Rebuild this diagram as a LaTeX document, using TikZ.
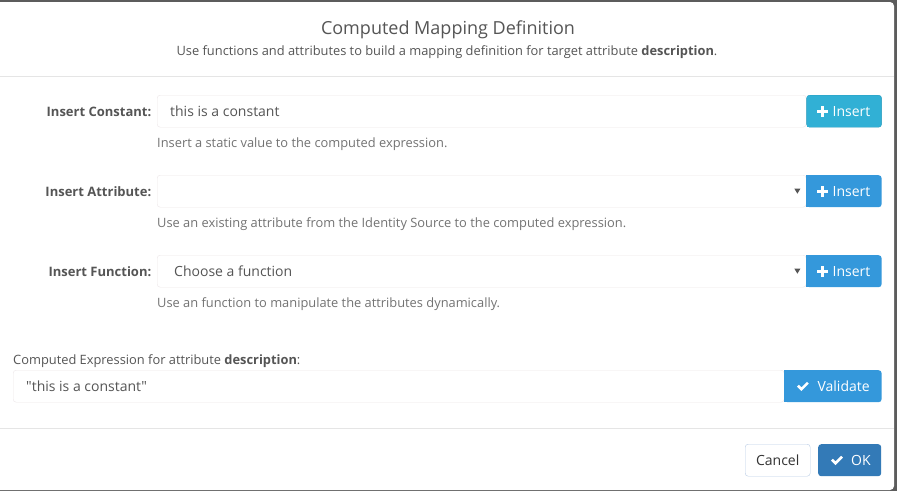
\documentclass[tikz,border=0pt]{standalone}
\usepackage{fontspec}
\setmainfont{Open Sans}[Ligatures=TeXOff]
\usetikzlibrary{positioning}

\definecolor{backdrop}{HTML}{5C5C5C}
\definecolor{inktext}{HTML}{555555}
\definecolor{inkhelp}{HTML}{737373}
\definecolor{inkdark}{HTML}{333333}
\definecolor{rulegray}{HTML}{E5E5E5}
\definecolor{fieldedge}{HTML}{ECE6E8}
\definecolor{btnblue}{HTML}{3498DB}
\definecolor{btncyan}{HTML}{31B0D5}
\definecolor{btncyanedge}{HTML}{269ABC}
\definecolor{okblue}{HTML}{337AB7}
\definecolor{canceledge}{HTML}{B9CCE6}

\newcommand{\uisize}[1]{\fontsize{#1}{#1}\selectfont}

\begin{document}
\begin{tikzpicture}[
		x=1pt, y=-1pt,
		every node/.style={inner sep=0pt, text=inktext, font=\uisize{12.85}},
		fieldlabel/.style={anchor=east, font=\uisize{13}\bfseries},
		field/.style={draw=fieldedge, fill=white, rounded corners=3pt, minimum height=32pt, minimum width=#1, anchor=north west},
		fieldtext/.style={anchor=west, font=\uisize{14}},
		helptext/.style={anchor=west, text=inkhelp},
		button/.style={fill=#1, rounded corners=3pt, minimum height=32pt},
		btntext/.style={anchor=west, text=white, font=\uisize{14}},
		plusicon/.pic={\fill[white] (-5.5,-1.6) rectangle (5.5,1.6); \fill[white] (-1.6,-5.5) rectangle (1.6,5.5);},
		checkicon/.pic={\draw[white, line width=2.6pt] (-5,-0.5) -- (-1.5,3) -- (5,-3.5);},
		caret/.pic={\fill[inktext] (-3,-2.5) -- (3,-2.5) -- (0,2.5) -- cycle;}
	]
  \useasboundingbox (0,0) rectangle (897,491);
  \fill[backdrop] (0,0) rectangle (897,491);
  \fill[white, rounded corners=4pt] (-6,2) rectangle (894,490);

  % header
  \node (title) [font=\uisize{18}] at (448,30) {Computed Mapping Definition};
  \node (subtitle) at (447,52.5) {Use functions and attributes to build a mapping definition for target attribute \textbf{description}.};
  \coordinate (head_l) at (0,76);
  \coordinate (head_r) at (894,76);
  \draw[rulegray] (head_l) -- (head_r);

  % constant
  \node (c_label) [fieldlabel] at (151.5,112) {Insert Constant:};
  \node (c_box) [field=649pt] at (157,95) {};
  \node (c_btn) [button=btncyan, draw=btncyanedge, minimum width=75pt, right=0pt of c_box] {};
  \node (c_text) [fieldtext, right=13pt of c_box.west] {this is a constant};
  \node (c_help) [helptext] at (157,144) {Insert a static value to the computed expression.};

  % attribute
  \node (a_label) [fieldlabel] at (151.5,192) {Insert Attribute:};
  \node (a_box) [field=649pt] at (157,175) {};
  \node (a_btn) [button=btnblue, minimum width=75pt, right=0pt of a_box] {};
  \node (a_help) [helptext] at (157,224) {Use an existing attribute from the Identity Source to the computed expression.};

  % function
  \node (f_label) [fieldlabel] at (151.5,272) {Insert Function:};
  \node (f_box) [field=649pt] at (157,255) {};
  \node (f_btn) [button=btnblue, minimum width=75pt, right=0pt of f_box] {};
  \node (f_text) [fieldtext, right=17pt of f_box.west] {Choose a function};
  \node (f_help) [helptext] at (157,304) {Use an function to manipulate the attributes dynamically.};

  % expression
  \node (e_label) [anchor=west] at (13,361.5) {Computed Expression for attribute \textbf{description}:};
  \node (e_box) [field=771pt] at (13,370) {};
  \node (v_btn) [button=btnblue, minimum width=97pt, right=0pt of e_box] {};
  \node (e_text) [fieldtext, right=13pt of e_box.west] {"this is a constant"};

  % square off the left side of the attached buttons
  \fill[btncyan] ([xshift=0.5pt, yshift=-0.5pt]c_btn.north west) rectangle ([xshift=4pt, yshift=0.5pt]c_btn.south west);
  \foreach \b in {a_btn, f_btn, v_btn}
    \fill[btnblue] (\b.north west) rectangle ([xshift=4pt]\b.south west);

  \foreach \b in {c_btn, a_btn, f_btn} {
    \pic at ([xshift=16pt]\b.west) {plusicon};
    \node [btntext] at ([xshift=26pt]\b.west) {Insert};
  }
  \pic at ([xshift=-9pt]a_btn.west) {caret};
  \pic at ([xshift=-9pt]f_btn.west) {caret};
  \pic at ([xshift=18.5pt]v_btn.west) {checkicon};
  \node (v_text) [btntext] at ([xshift=33pt]v_btn.west) {Validate};

  % footer
  \coordinate (foot_l) at (0,428);
  \coordinate (foot_r) at (894,428);
  \draw[rulegray] (foot_l) -- (foot_r);
  \node (cancel) [draw=canceledge, fill=white, rounded corners=3pt, minimum width=65pt, minimum height=32pt, anchor=north west, text=inkdark, font=\uisize{14}] at (745,444) {Cancel};
  \node (ok) [button=okblue, minimum width=63pt, anchor=north west] at (818,444) {};
  \pic at ([xshift=19pt]ok.west) {checkicon};
  \node (ok_text) [btntext] at ([xshift=33pt]ok.west) {OK};
\end{tikzpicture}
\end{document}
